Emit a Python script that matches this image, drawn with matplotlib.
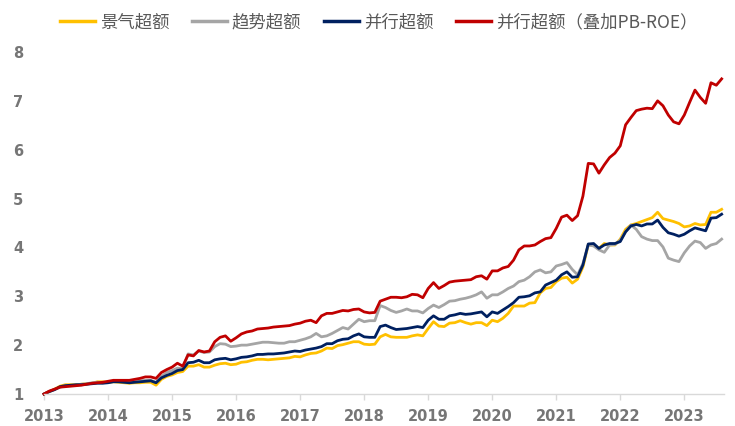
import matplotlib
matplotlib.use("Agg")
import matplotlib.pyplot as plt
import numpy as np
import pandas as pd

plt.rcParams['font.family'] = ['Noto Sans CJK SC', 'DejaVu Sans']

# Monthly data, Jan 2013 - Aug 2023
start_date = "2013-01"
n_months = 128

jingqi = [
    1.00, 1.05, 1.10, 1.16, 1.19, 1.19, 1.19, 1.20, 1.21, 1.22, 1.25, 1.25,
    1.24, 1.25, 1.24, 1.23, 1.22, 1.23, 1.23, 1.24, 1.24, 1.18, 1.30, 1.36,
    1.39, 1.44, 1.46, 1.57, 1.57, 1.60, 1.55, 1.55, 1.59, 1.62, 1.63, 1.60,
    1.61, 1.65, 1.66, 1.69, 1.71, 1.71, 1.70, 1.71, 1.72, 1.73, 1.74, 1.77,
    1.76, 1.80, 1.83, 1.84, 1.88, 1.94, 1.93, 1.99, 2.01, 2.04, 2.07, 2.07,
    2.02, 2.01, 2.02, 2.17, 2.22, 2.17, 2.16, 2.16, 2.16, 2.19, 2.21, 2.19,
    2.34, 2.48, 2.39, 2.38, 2.45, 2.46, 2.50, 2.46, 2.43, 2.46, 2.46, 2.40,
    2.51, 2.48, 2.55, 2.65, 2.80, 2.80, 2.80, 2.86, 2.87, 3.07, 3.16, 3.18,
    3.30, 3.37, 3.39, 3.27, 3.35, 3.60, 4.05, 4.04, 3.98, 4.08, 4.05, 4.05,
    4.17, 4.37, 4.46, 4.49, 4.53, 4.57, 4.61, 4.72, 4.59, 4.56, 4.53, 4.49,
    4.42, 4.44, 4.49, 4.46, 4.47, 4.72, 4.72, 4.78,
]

qushi = [
    1.00, 1.05, 1.09, 1.14, 1.17, 1.17, 1.18, 1.20, 1.21, 1.23, 1.24, 1.23,
    1.24, 1.26, 1.25, 1.25, 1.24, 1.26, 1.27, 1.28, 1.28, 1.24, 1.36, 1.44,
    1.48, 1.53, 1.52, 1.82, 1.80, 1.88, 1.85, 1.86, 1.97, 2.03, 2.02, 1.97,
    1.98, 2.00, 2.00, 2.02, 2.04, 2.06, 2.06, 2.05, 2.04, 2.04, 2.07, 2.07,
    2.10, 2.13, 2.17, 2.24, 2.17, 2.19, 2.24, 2.30, 2.36, 2.33, 2.43, 2.53,
    2.48, 2.50, 2.50, 2.81, 2.77, 2.71, 2.67, 2.70, 2.74, 2.70, 2.70, 2.66,
    2.75, 2.82, 2.77, 2.83, 2.90, 2.91, 2.94, 2.96, 2.99, 3.03, 3.09, 2.96,
    3.03, 3.03, 3.09, 3.16, 3.21, 3.30, 3.33, 3.40, 3.50, 3.54, 3.48, 3.50,
    3.62, 3.65, 3.69, 3.55, 3.44, 3.67, 4.05, 4.03, 3.95, 3.90, 4.05, 4.06,
    4.15, 4.32, 4.46, 4.37, 4.22, 4.17, 4.14, 4.14, 4.01, 3.78, 3.74, 3.71,
    3.89, 4.03, 4.13, 4.10, 3.98, 4.05, 4.08, 4.17,
]

bingxing = [
    1.00, 1.05, 1.09, 1.15, 1.17, 1.18, 1.19, 1.19, 1.20, 1.21, 1.22, 1.22,
    1.23, 1.25, 1.25, 1.24, 1.23, 1.24, 1.25, 1.26, 1.27, 1.23, 1.33, 1.38,
    1.42, 1.48, 1.50, 1.64, 1.65, 1.69, 1.64, 1.64, 1.70, 1.72, 1.73, 1.70,
    1.72, 1.75, 1.76, 1.78, 1.81, 1.81, 1.82, 1.82, 1.83, 1.84, 1.86, 1.88,
    1.87, 1.90, 1.92, 1.94, 1.97, 2.03, 2.03, 2.09, 2.12, 2.13, 2.19, 2.23,
    2.17, 2.16, 2.16, 2.38, 2.41, 2.36, 2.32, 2.33, 2.34, 2.36, 2.38, 2.36,
    2.51, 2.60, 2.53, 2.53, 2.60, 2.62, 2.65, 2.63, 2.64, 2.66, 2.68, 2.58,
    2.68, 2.65, 2.72, 2.79, 2.87, 2.98, 2.99, 3.01, 3.07, 3.09, 3.23, 3.28,
    3.33, 3.44, 3.50, 3.39, 3.40, 3.64, 4.07, 4.08, 3.98, 4.05, 4.08, 4.08,
    4.12, 4.32, 4.44, 4.47, 4.44, 4.48, 4.48, 4.56, 4.41, 4.30, 4.27, 4.23,
    4.27, 4.34, 4.40, 4.37, 4.34, 4.60, 4.61, 4.68,
]

bingxing_pbroe = [
    1.00, 1.06, 1.10, 1.14, 1.15, 1.16, 1.17, 1.18, 1.20, 1.22, 1.23, 1.24,
    1.26, 1.28, 1.28, 1.28, 1.28, 1.30, 1.32, 1.35, 1.35, 1.32, 1.44, 1.50,
    1.55, 1.63, 1.57, 1.80, 1.78, 1.89, 1.86, 1.88, 2.07, 2.16, 2.19, 2.08,
    2.15, 2.23, 2.27, 2.29, 2.33, 2.34, 2.35, 2.37, 2.38, 2.39, 2.40, 2.43,
    2.45, 2.49, 2.51, 2.46, 2.60, 2.65, 2.65, 2.68, 2.71, 2.70, 2.73, 2.74,
    2.68, 2.66, 2.67, 2.90, 2.94, 2.98, 2.98, 2.97, 2.99, 3.04, 3.03, 2.97,
    3.16, 3.28, 3.16, 3.22, 3.29, 3.31, 3.32, 3.33, 3.34, 3.40, 3.42, 3.35,
    3.52, 3.52, 3.58, 3.61, 3.74, 3.95, 4.03, 4.03, 4.05, 4.12, 4.18, 4.20,
    4.39, 4.62, 4.66, 4.55, 4.65, 5.05, 5.72, 5.71, 5.52, 5.69, 5.84, 5.93,
    6.08, 6.51, 6.66, 6.80, 6.83, 6.85, 6.84, 7.00, 6.90, 6.71, 6.57, 6.53,
    6.71, 6.97, 7.22, 7.07, 6.95, 7.37, 7.32, 7.45,
]

series_names = ['景气超额', '趋势超额', '并行超额', '并行超额（叠加PB-ROE）']
series_colors = ['#FFC000', '#A5A5A5', '#002060', '#C00000']
year_ticks = list(range(2013, 2024))
y_ticks = [1, 2, 3, 4, 5, 6, 7, 8]

dates = pd.date_range(start_date, periods=n_months, freq='MS')
x = dates.year + (dates.month - 1) / 12.0

fig = plt.figure(figsize=(7.35, 4.26), dpi=100)
ax = fig.add_axes([44 / 735, 1 - 394 / 426, (724 - 44) / 735, (394 - 52) / 426])

for vals, name, col in zip([jingqi, qushi, bingxing, bingxing_pbroe], series_names, series_colors):
    ax.plot(x, vals, color=col, lw=2.0, label=name, clip_on=False, solid_joinstyle='round')

ax.set_xlim(2013, 2023.62)
ax.set_ylim(1, 8)
ax.set_xticks(year_ticks)
ax.set_xticklabels([str(y) for y in year_ticks])
ax.set_yticks(y_ticks)
ax.set_yticklabels([str(v) for v in y_ticks])

for s in ['top', 'right', 'left']:
    ax.spines[s].set_visible(False)
ax.spines['bottom'].set_color('#D9D9D9')
ax.spines['bottom'].set_linewidth(1.0)
ax.tick_params(axis='x', colors='#D9D9D9', length=4, width=1, direction='out', pad=7)
ax.tick_params(axis='y', length=0, pad=15)
for lab in ax.get_xticklabels() + ax.get_yticklabels():
    lab.set_fontfamily('DejaVu Sans')
    lab.set_fontweight('bold')
    lab.set_fontsize(10.5)
    lab.set_color('#767676')

leg = fig.legend(loc='upper center', bbox_to_anchor=(0.515, 1.005), ncol=4, frameon=False,
                 handlelength=2.0, handletextpad=0.3, columnspacing=1.3,
                 prop={'family': ['Noto Sans CJK SC', 'DejaVu Sans'], 'size': 12.5})
for t in leg.get_texts():
    t.set_color('#595959')
for h in leg.get_lines():
    h.set_linewidth(2.5)

fig.savefig('out.png', dpi=100)
